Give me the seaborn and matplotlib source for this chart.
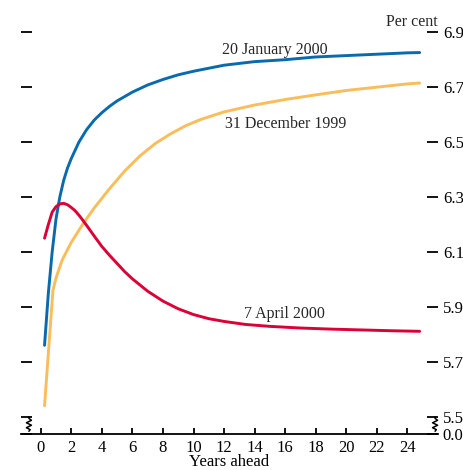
import numpy as np
import pandas as pd
import matplotlib
matplotlib.use('Agg')
import matplotlib.pyplot as plt
import matplotlib.transforms as mtransforms
import seaborn as sns

# Implied forward rates, years ahead
jan_x = [0.25, 0.5, 0.75, 1.0, 1.25, 1.5, 1.75, 2.0, 2.5, 3.0, 3.5, 4.0, 4.5, 5.0, 6.0,
         7.0, 8.0, 9.0, 10.0, 12.0, 14.0, 16.0, 18.0, 20.0, 22.0, 24.0, 24.8]
jan_y = [5.76, 5.95, 6.10, 6.22, 6.30, 6.36, 6.405, 6.44, 6.50, 6.545, 6.58, 6.607,
         6.63, 6.65, 6.682, 6.708, 6.728, 6.745, 6.758, 6.78, 6.793, 6.80, 6.81, 6.815,
         6.82, 6.825, 6.826]

dec_x = [0.25, 0.8, 1.0, 1.4, 2.0, 2.8, 3.5, 4.5, 5.5, 6.5, 7.5, 8.5, 9.5, 10.5, 12.0,
         14.0, 16.0, 18.0, 20.0, 22.0, 24.0, 24.8]
dec_y = [5.54, 5.96, 6.005, 6.07, 6.135, 6.205, 6.26, 6.33, 6.395, 6.45, 6.495, 6.53,
         6.56, 6.583, 6.61, 6.635, 6.655, 6.672, 6.688, 6.70, 6.712, 6.715]

apr_x = [0.25, 0.5, 0.75, 1.0, 1.25, 1.5, 1.75, 2.0, 2.25, 2.5, 2.75, 3.0, 3.5, 4.0,
         4.5, 5.0, 5.5, 6.0, 7.0, 8.0, 9.0, 10.0, 11.0, 12.0, 13.4, 15.0, 17.0, 19.0,
         21.0, 23.0, 24.8]
apr_y = [6.15, 6.20, 6.245, 6.265, 6.275, 6.277, 6.272, 6.262, 6.25, 6.234, 6.216,
         6.197, 6.158, 6.12, 6.088, 6.058, 6.028, 6.002, 5.957, 5.921, 5.893, 5.872,
         5.857, 5.847, 5.836, 5.829, 5.823, 5.819, 5.816, 5.813, 5.811]

series_names = ['20 January 2000', '31 December 1999', '7 April 2000']
series_colors = ['#0a6aad', '#f9bd5b', '#dc0038']

y_ticks = [5.5, 5.7, 5.9, 6.1, 6.3, 6.5, 6.7, 6.9]
x_ticks = list(range(0, 25, 2))

df = pd.concat([
    pd.DataFrame({'x': jan_x, 'y': jan_y, 'curve': series_names[0]}),
    pd.DataFrame({'x': dec_x, 'y': dec_y, 'curve': series_names[1]}),
    pd.DataFrame({'x': apr_x, 'y': apr_y, 'curve': series_names[2]}),
], ignore_index=True)

sns.set_theme(style="white")
plt.rcParams['font.family'] = ['Liberation Serif', 'DejaVu Serif']

fig = plt.figure(figsize=(4.64, 4.70), dpi=100)
ax = fig.add_axes([21 / 464, 35.7 / 470, 417 / 464, 424.3 / 470])

sns.lineplot(data=df, x='x', y='y', hue='curve', hue_order=series_names,
             palette=dict(zip(series_names, series_colors)), linewidth=2.1,
             legend=False, ax=ax, estimator=None, sort=False)

y_base = 5.436
ax.set_xlim(-1.29, 26.0)
ax.set_ylim(y_base, 6.981)

for s in ['left', 'right', 'top']:
    ax.spines[s].set_visible(False)
ax.spines['bottom'].set_color('black')
ax.spines['bottom'].set_linewidth(1.3)

ax.set_xticks(x_ticks)
ax.set_xticklabels([str(t) for t in x_ticks])
ax.set_yticks([y_base] + y_ticks)
ax.set_yticklabels(['0.0'] + [f"{t:.1f}" for t in y_ticks])

ax.tick_params(axis='y', left=True, right=True, labelleft=False, labelright=True,
               direction='in', length=8, width=1.3, color='black', pad=3.5,
               labelsize=12, labelcolor='black')
ax.tick_params(axis='x', bottom=True, direction='in', length=4.5, width=1.3,
               color='black', pad=4, labelsize=12, labelcolor='black')

ax.set_xlabel('Years ahead', fontsize=12, color='black', labelpad=-1)
ax.set_ylabel('')

# axis break zigzags
trans = mtransforms.blended_transform_factory(ax.transAxes, ax.transData)
for x0, w in [(0.019, 0.006), (0.993, 0.006)]:
    zx = [x0, x0, x0 + w, x0 - w, x0 + w, x0 - w, x0 + w * 0.5, x0]
    zy = [5.5, 5.494, 5.487, 5.478, 5.469, 5.460, 5.453, 5.447]
    ax.plot(zx, zy, color='black', lw=1.1, transform=trans, clip_on=False)

# curve labels
ax.text(15.35, 6.835, series_names[0], ha='center', va='center', fontsize=11.5)
ax.text(16.0, 6.566, series_names[1], ha='center', va='center', fontsize=11.5)
ax.text(15.95, 5.874, series_names[2], ha='center', va='center', fontsize=11.5)
ax.text(1.0, 6.938, 'Per cent', transform=trans, ha='right', va='center', fontsize=11.5)

fig.savefig('out.png', dpi=100)
